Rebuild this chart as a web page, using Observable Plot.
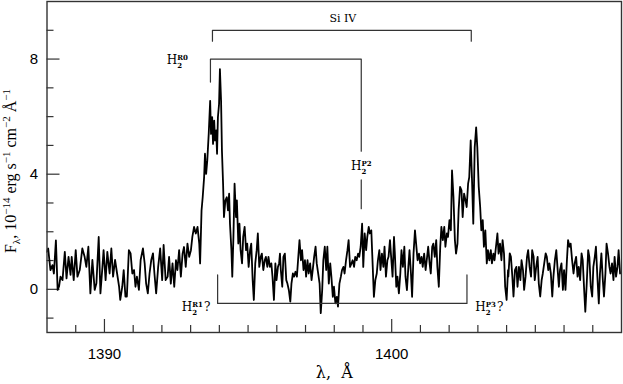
<!DOCTYPE html>
<html><head><meta charset="utf-8">
<script src="https://cdn.jsdelivr.net/npm/d3@7"></script>
<script src="https://cdn.jsdelivr.net/npm/@observablehq/plot@0.6"></script>
<style>body{margin:0;background:#fff} svg{display:block}</style>
</head><body><div id="chart"></div>
<script>
const wavelength = [
1387.98,1388.04,1388.12,1388.19,1388.24,1388.31,1388.37,1388.42,1388.47,1388.54,1388.62,1388.68,1388.75,1388.82,1388.86,1388.93,1389.00,1389.06,1389.14,1389.23,1389.31,1389.37,1389.44,1389.51,1389.58,1389.66,1389.72,1389.80,1389.86,1389.93,1389.97,1390.04,1390.10,1390.18,1390.24,1390.30,1390.37,1390.44,1390.51,1390.55,1390.62,1390.67,1390.73,1390.78,1390.85,1390.91,1390.97,1391.03,1391.08,1391.13,1391.20,1391.26,1391.34,1391.40,1391.45,1391.51,1391.57,1391.63,1391.69,1391.74,1391.80,1391.87,1391.94,1392.01,1392.06,1392.13,
1392.20,1392.25,1392.31,1392.37,1392.43,1392.49,1392.54,1392.60,1392.66,1392.72,1392.77,1392.83,1392.89,1392.95,1393.01,1393.06,1393.12,1393.18,1393.24,1393.30,1393.33,1393.38,1393.42,1393.47,1393.50,1393.54,1393.58,1393.63,1393.68,1393.71,1393.75,1393.78,1393.82,1393.85,1393.89,1393.92,1393.95,1393.99,1394.02,1394.06,1394.09,1394.13,1394.16,1394.21,1394.26,1394.30,1394.34,1394.37,1394.42,1394.45,1394.49,1394.53,1394.58,1394.61,1394.66,1394.70,1394.74,1394.79,1394.83,1394.88,1394.93,1394.97,1395.02,1395.07,1395.11,1395.16,1395.20,1395.25,1395.30,1395.34,1395.39,1395.44,1395.48,1395.53,1395.58,1395.62,1395.67,1395.71,1395.76,1395.81,1395.85,1395.90,1395.95,1395.99,1396.04,1396.08,
1396.11,1396.14,1396.19,1396.23,1396.28,1396.33,1396.37,1396.42,1396.47,1396.51,1396.56,1396.60,1396.65,1396.70,1396.74,1396.79,1396.84,1396.88,1396.93,1396.98,1397.02,1397.07,1397.11,1397.16,1397.21,1397.25,1397.30,1397.35,1397.39,1397.44,1397.49,1397.53,1397.58,1397.62,1397.67,1397.72,1397.76,1397.81,1397.86,1397.90,1397.95,1397.99,1398.04,1398.09,1398.13,1398.18,1398.23,1398.27,1398.32,1398.36,1398.41,1398.46,1398.50,1398.55,1398.60,1398.64,1398.69,1398.73,1398.78,1398.83,1398.87,1398.92,1398.97,1399.01,1399.06,1399.11,1399.15,1399.20,1399.24,1399.29,1399.34,1399.38,1399.43,1399.48,1399.52,1399.57,1399.61,1399.66,1399.71,1399.75,1399.80,1399.85,1399.89,1399.94,1399.98,1400.03,1400.08,
1400.11,1400.16,1400.20,1400.25,1400.30,1400.34,1400.39,1400.44,1400.48,1400.53,1400.58,1400.62,1400.67,1400.71,1400.76,1400.81,1400.85,1400.90,1400.95,1400.99,1401.04,1401.08,1401.13,1401.18,1401.22,1401.27,1401.32,1401.36,1401.41,1401.45,1401.50,1401.55,1401.59,1401.64,1401.69,1401.73,1401.78,1401.83,1401.87,1401.92,1401.96,1402.01,1402.06,1402.10,1402.15,1402.20,1402.24,1402.29,1402.33,1402.38,1402.43,1402.47,1402.52,1402.57,1402.61,1402.66,1402.70,1402.75,1402.80,1402.84,1402.89,1402.94,1402.98,1403.03,1403.08,1403.12,1403.17,1403.21,1403.26,1403.31,1403.35,1403.40,1403.45,1403.49,1403.54,1403.58,1403.63,1403.68,1403.72,1403.77,1403.82,1403.86,1403.91,1403.95,1404.00,1404.05,
1404.06,1404.11,1404.15,1404.20,1404.24,1404.29,1404.34,1404.38,1404.43,1404.48,1404.52,1404.57,1404.61,1404.66,1404.71,1404.75,1404.80,1404.85,1404.89,1404.94,1404.98,1405.03,1405.08,1405.12,1405.17,1405.22,1405.26,1405.31,1405.36,1405.40,1405.45,1405.49,1405.54,1405.59,1405.63,1405.68,1405.73,1405.77,1405.82,1405.86,1405.91,1405.96,1406.00,1406.05,1406.10,1406.14,1406.19,1406.23,1406.28,1406.33,1406.37,1406.42,1406.47,1406.51,1406.56,1406.61,1406.65,1406.70,1406.74,1406.79,1406.84,1406.88,1406.93,1406.98,1407.02,1407.07,1407.11,1407.16,1407.21,1407.25,1407.30,1407.35,1407.39,1407.44,1407.48,1407.53,1407.58,1407.62,1407.67,1407.72,1407.76,1407.81,1407.86,1407.90,1407.95
];
const flux = [
1.3,1.42,0.67,0.84,0.55,1.7,-0.02,0.1,0.44,0.32,1.3,0.38,1.13,0.5,1.13,0.32,1.36,0.44,0.67,1.42,1.13,0.78,1.48,-0.14,1.02,-0.02,0.21,1.82,-0.14,0.78,1.36,0.32,1.3,0.55,1.42,0.44,1.02,0.55,0.09,-0.37,0.09,0.67,-0.25,-0.25,1.36,1.25,0.55,0.67,0.09,0.44,-0.02,1.02,1.42,0.9,0.21,-0.14,0.55,1.02,1.25,0.55,-0.14,0.78,1.42,0.32,1.54,0.32,
0.44,1.13,0.2,0.9,0.09,1.01,0.67,1.36,0.44,1.24,1.47,0.78,1.59,1.13,1.36,1.82,2.17,1.94,2.17,1.59,0.9,2.74,3.2,3.9,4.71,4.01,4.48,5.4,6.55,5.4,5.98,5.05,5.86,5.17,5.52,4.71,5.98,6.44,7.65,6.55,4.82,3.67,2.51,3.09,3.2,2.74,3.32,2.28,1.36,0.44,1.82,3.67,2.51,3.09,1.59,2.28,1.36,0.9,1.82,2.17,1.36,1.59,0.78,1.36,1.59,0.32,-0.37,0.9,1.36,1.94,0.78,1.13,1.24,0.67,1.01,1.13,0.78,1.13,0.78,0.9,0.44,-0.37,0.9,0.32,0.78,0.9,
1.24,0.67,0.09,1.13,1.24,0.32,0.2,-0.03,-0.43,0.2,0.55,0.44,0.61,0.44,1.01,1.71,1.01,1.36,0.67,1.01,0.44,1.01,0.55,0.9,0.32,0.67,1.13,1.48,0.9,0.55,0.2,-0.83,-0.03,1.01,1.48,0.67,1.48,0.2,0.9,0.44,-0.26,0.09,-0.49,-0.26,-0.6,0.2,0.44,0.67,0.78,0.55,1.01,1.36,1.71,0.78,0.9,1.01,0.78,1.13,1.01,1.24,1.13,1.48,2.28,0.78,1.94,1.36,1.82,2.17,1.94,2.05,0.78,-0.26,0.32,0.55,1.01,1.36,0.67,1.24,0.78,1.48,0.44,1.01,1.13,1.71,1.13,0.44,1.82,
1.24,0.09,0.44,-0.14,0.55,1.36,0.78,1.48,0.44,-0.03,0.78,1.36,0.55,-0.26,1.24,2.05,1.59,1.01,1.24,0.9,1.13,0.78,1.24,0.67,1.01,1.48,0.9,0.55,1.48,1.59,1.13,1.71,0.78,0.09,1.48,2.17,1.71,2.17,1.48,1.94,1.82,2.4,2.05,4.13,3.21,1.71,1.24,1.59,2.75,3.56,3.44,2.51,3.32,3.09,2.86,3.67,3.9,5.17,3.67,2.28,4.94,5.63,4.94,3.56,2.86,2.05,2.4,1.48,2.05,0.9,1.36,1.01,1.36,0.9,1.24,1.01,1.48,1.94,1.24,1.59,1.01,1.71,1.24,0.09,-0.37,0.67,
0.44,1.25,1.13,0.44,-0.25,0.67,0.78,0.09,0.78,0.32,1.01,0.67,-0.02,0.44,1.13,1.36,0.78,0.44,1.36,1.13,0.32,0.78,1.13,0.21,-0.25,0.32,0.55,0.9,1.25,1.13,0.67,0.9,0.55,-0.25,0.44,1.01,1.36,0.78,0.09,0.67,0.9,-0.02,0.67,-0.02,1.01,1.71,1.48,1.59,1.01,0.55,0.9,1.13,0.44,0.78,0.32,1.25,1.01,-0.02,-0.78,0.21,1.36,1.13,0.09,-0.25,0.78,1.13,1.48,0.44,-0.49,0.55,1.25,0.32,-0.25,0.55,1.59,1.25,0.78,0.55,0.9,0.32,1.13,0.44,0.78,1.36,0.55
];

// axes
const xDomain = [1388, 1408];
const yDomain = [-1.5, 10];
const xMajorTicks = [1390, 1400];
const xMinorTicks = [1389,1391,1392,1393,1394,1395,1396,1397,1398,1399,1401,1402,1403,1404,1405,1406,1407];
const yMajorTicks = [0, 4, 8];
const yMinorTicks = [-1,1,2,3,5,6,7,9];
const xLabel = "λ,  Å";
const yLabelPlain = "Fλ, 10−14 erg s−1 cm−2 Å−1";

// line identifications
const siIVLines = [1393.76, 1402.77];
const siIVLevel = [9.0, 8.62];          // bar level, end of drops
const siIVText = {x: 1398.30, y: 9.42, text: "Si IV"};
const h2UpperLines = [1393.69, 1398.94];
const h2UpperLevel = [8.0, 7.2, 4.8];   // bar, left drop end, right drop end
const h2P2Stub = [3.8, 2.8];
const h2LowerLines = [1393.94, 1402.62];
const h2LowerLevel = [-0.49, 0.5];
const h2Labels = [
  {x: 1392.17, y: 7.97, sup: "R0", q: ""},
  {x: 1398.58, y: 4.28, sup: "P2", q: ""},
  {x: 1392.69, y: -0.63, sup: "R1", q: "?"},
  {x: 1402.91, y: -0.63, sup: "P3", q: "?"}
];
const h2Key = d => "H2" + d.sup + d.q;

const spectrum = wavelength.map((w, i) => ({w, f: flux[i]}));
const siIVPath = [
  {x: siIVLines[0], y: siIVLevel[1]}, {x: siIVLines[0], y: siIVLevel[0]},
  {x: siIVLines[1], y: siIVLevel[0]}, {x: siIVLines[1], y: siIVLevel[1]}
];
const h2UpperPath = [
  {x: h2UpperLines[0], y: h2UpperLevel[1]}, {x: h2UpperLines[0], y: h2UpperLevel[0]},
  {x: h2UpperLines[1], y: h2UpperLevel[0]}, {x: h2UpperLines[1], y: h2UpperLevel[2]}
];
const h2StubPath = [{x: h2UpperLines[1], y: h2P2Stub[0]}, {x: h2UpperLines[1], y: h2P2Stub[1]}];
const h2LowerPath = [
  {x: h2LowerLines[0], y: h2LowerLevel[1]}, {x: h2LowerLines[0], y: h2LowerLevel[0]},
  {x: h2LowerLines[1], y: h2LowerLevel[0]}, {x: h2LowerLines[1], y: h2LowerLevel[1]}
];

const W = 623, H = 384, mL = 46.5, mR = 2, mT = 1, mB = 52;
const fw = W - mL - mR, fh = H - mT - mB;
const serif = "DejaVu Serif";
const ink = "#333";

const chart = Plot.plot({
  width: W, height: H,
  marginLeft: mL, marginRight: mR, marginTop: mT, marginBottom: mB,
  style: {fontFamily: "Liberation Sans", fontSize: "15px", background: "#fff", color: "#000"},
  x: {domain: xDomain, axis: null},
  y: {domain: yDomain, axis: null},
  marks: [
    Plot.tickX(xMinorTicks, {x: d => d, insetTop: fh - 7, stroke: ink, strokeWidth: 1.2}),
    Plot.tickX(xMajorTicks, {x: d => d, insetTop: fh - 13, stroke: ink, strokeWidth: 1.2}),
    Plot.tickY(yMinorTicks, {y: d => d, insetRight: fw - 7, stroke: ink, strokeWidth: 1.2}),
    Plot.tickY(yMajorTicks, {y: d => d, insetRight: fw - 13, stroke: ink, strokeWidth: 1.2}),
    Plot.axisX(xMajorTicks, {tickSize: 0, tickPadding: 16, fontSize: 15, label: null, tickFormat: d => String(d)}),
    Plot.axisY(yMajorTicks, {tickSize: 0, tickPadding: 9, fontSize: 15, label: null, tickFormat: d => String(d)}),
    Plot.line(spectrum, {x: "w", y: "f", stroke: "#000", strokeWidth: 1.8, clip: true}),
    Plot.line(siIVPath, {x: "x", y: "y", stroke: ink, strokeWidth: 1.2}),
    Plot.line(h2UpperPath, {x: "x", y: "y", stroke: ink, strokeWidth: 1.2}),
    Plot.line(h2StubPath, {x: "x", y: "y", stroke: ink, strokeWidth: 1.2}),
    Plot.line(h2LowerPath, {x: "x", y: "y", stroke: ink, strokeWidth: 1.2}),
    Plot.text([siIVText], {x: "x", y: "y", text: "text", fontFamily: serif, fontSize: 11, fill: "#000"}),
    Plot.text(h2Labels, {x: "x", y: "y", text: h2Key, textAnchor: "start", fontFamily: serif, fontSize: 12, fill: "#000"}),
    Plot.text([xLabel], {frameAnchor: "bottom", dy: 45, text: d => d, textAnchor: "middle", fontFamily: serif, fontSize: 16, fill: "#000"}),
    Plot.text([yLabelPlain], {frameAnchor: "left", dx: -36, dy: 4, rotate: -90, textAnchor: "middle", text: d => d, fontFamily: "Liberation Serif", fontSize: 16, fill: "#000"}),
    Plot.frame({stroke: ink, strokeWidth: 1.4})
  ]
});
document.getElementById("chart").appendChild(chart);

const NS = "http://www.w3.org/2000/svg";
function span(parent, s, attrs) {
  const sp = document.createElementNS(NS, "tspan");
  sp.textContent = s;
  for (const k in attrs) sp.setAttribute(k, attrs[k]);
  parent.appendChild(sp);
  return sp;
}

// typeset text with sub/superscripts
const keys = new Map(h2Labels.map(d => [h2Key(d), d]));
for (const t of chart.querySelectorAll("text")) {
  const c = t.textContent;
  if (c === yLabelPlain) {
    t.textContent = "";
    const parts = [
      ["F", 0, null], ["λ", 4, 11], [", 10", -4, null], ["−14", -6, 11], [" erg s", 6, null],
      ["−1", -6, 11], [" cm", 6, null], ["−2", -6, 11], [" Å", 6, null], ["−1", -6, 11]
    ];
    for (const [s, dy, fs] of parts) {
      const a = {};
      if (dy) a.dy = dy;
      if (fs) a["font-size"] = fs;
      span(t, s, a);
    }
  } else if (keys.has(c)) {
    const d = keys.get(c);
    t.textContent = "";
    span(t, "H", {});
    const sup = span(t, d.sup, {dy: -4.2, "font-size": 7, "font-weight": "bold"});
    const w = sup.getComputedTextLength();
    const sub = span(t, "2", {dx: -w, dy: 8.4, "font-size": 7, "font-weight": "bold"});
    const w2 = sub.getComputedTextLength();
    if (d.q) span(t, d.q, {dx: w - w2 + 1, dy: -4.2});
  }
}
</script></body></html>
